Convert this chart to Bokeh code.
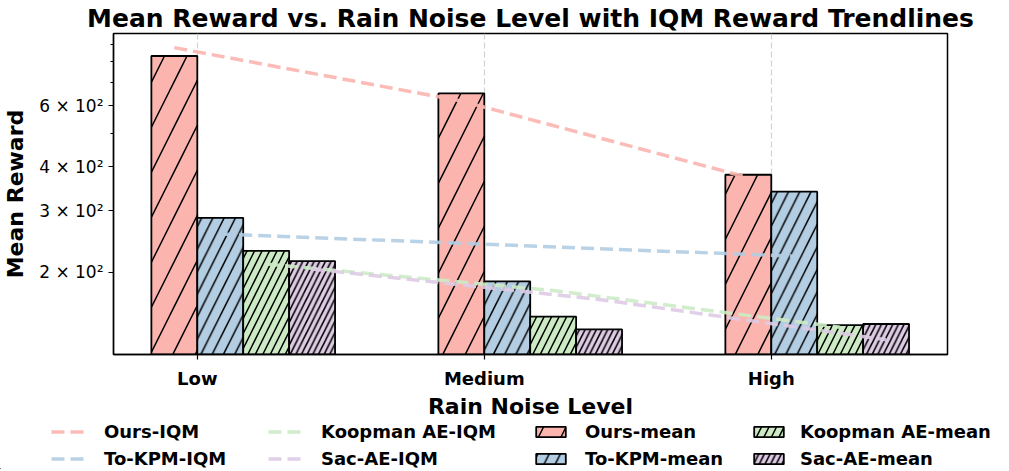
from bokeh.plotting import figure
from bokeh.models import Range1d, FixedTicker, Legend, LegendItem
from bokeh.embed import file_html
from bokeh.resources import INLINE

# ---------------- data ----------------
categories = ["Low", "Medium", "High"]
series = ["Ours", "To-KPM", "Koopman AE", "Sac-AE"]

ours_mean = [832, 650, 380]
tokpm_mean = [286, 188, 340]
koopman_mean = [230, 149, 141]
sacae_mean = [215, 137, 142]

ours_iqm = [879, 618, 373]
tokpm_iqm = [257, 239, 222]
koopman_iqm = [211, 177, 139]
sacae_iqm = [204, 167, 128]

y_major_ticks = [200, 300, 400, 600]
y_major_labels = ["2 × 10²", "3 × 10²", "4 × 10²", "6 × 10²"]
y_minor_ticks = [500, 700, 800, 900]

means = [ours_mean, tokpm_mean, koopman_mean, sacae_mean]
iqms = [ours_iqm, tokpm_iqm, koopman_iqm, sacae_iqm]

# ---------------- style ----------------
colors = ["#fbb4ae", "#b3cde3", "#ccebc5", "#decbe4"]
hatch_scales = [45, 22.5, 15, 11.3]
bar_w = 0.16
offsets = [-0.5, 0.5, 1.5, 2.5]
FONT = "DejaVu Sans"

p = figure(
    width=993, height=407,
    frame_width=834, frame_height=321,
    x_range=Range1d(-0.292, 2.614),
    y_range=Range1d(116.1, 965),
    y_axis_type="log",
    output_backend="svg", toolbar_location=None,
    min_border_left=105, min_border_right=54,
    min_border_top=26, min_border_bottom=60,
)
p.background_fill_color = "white"
p.border_fill_color = "white"
p.outline_line_color = "black"
p.outline_line_width = 1.5

# title
p.title.text = "Mean Reward vs. Rain Noise Level with IQM Reward Trendlines"
p.title.text_font = FONT
p.title.text_font_style = "bold"
p.title.text_font_size = "25px"
p.title.text_color = "black"
p.title.align = "center"
p.title.standoff = 2
p.title.offset = 8

# axes
p.xaxis.ticker = FixedTicker(ticks=[0, 1, 2])
p.xaxis.major_label_overrides = {i: c for i, c in enumerate(categories)}
p.xaxis.major_label_text_font = FONT
p.xaxis.major_label_text_font_style = "bold"
p.xaxis.major_label_text_font_size = "18px"
p.xaxis.major_label_standoff = 8
p.xaxis.axis_label = "Rain Noise Level"
p.xaxis.axis_label_text_font = FONT
p.xaxis.axis_label_text_font_style = "bold"
p.xaxis.axis_label_text_font_size = "22px"
p.xaxis.axis_label_standoff = 2

p.yaxis.ticker = FixedTicker(ticks=y_major_ticks, minor_ticks=y_minor_ticks)
p.yaxis.major_label_overrides = {t: l for t, l in zip(y_major_ticks, y_major_labels)}
p.yaxis.major_label_text_font = FONT
p.yaxis.major_label_text_font_size = "17px"
p.yaxis.major_label_standoff = 5
p.yaxis.axis_label = "Mean Reward"
p.yaxis.axis_label_text_font = FONT
p.yaxis.axis_label_text_font_style = "bold"
p.yaxis.axis_label_text_font_size = "22px"
p.yaxis.axis_label_standoff = 8

for ax in (p.xaxis[0], p.yaxis[0]):
    ax.axis_line_color = "black"
    ax.axis_line_width = 1.3
    ax.major_tick_line_color = "black"
    ax.major_tick_line_width = 1.2
    ax.major_tick_out = 5
    ax.major_tick_in = 0
    ax.minor_tick_line_color = "black"
    ax.minor_tick_line_width = 1.0
    ax.minor_tick_out = 3
    ax.minor_tick_in = 0
    ax.major_label_text_color = "black"
    ax.axis_label_text_color = "black"

p.ygrid.visible = False
p.xgrid.grid_line_color = "#c8c8c8"
p.xgrid.grid_line_dash = "6 3"
p.xgrid.grid_line_width = 1.2
p.xgrid.grid_line_alpha = 0.8

bar_style = [dict(fill_color=colors[k], line_color="black", line_width=1.8,
                  hatch_pattern="/", hatch_color="black", hatch_weight=1.5,
                  hatch_scale=hatch_scales[k]) for k in range(4)]
line_style = [dict(line_color=colors[k], line_width=3.5, line_dash="13 6",
                   line_alpha=0.9) for k in range(4)]

# bars
for k in range(4):
    xs = [i + offsets[k] * bar_w for i in range(len(categories))]
    p.vbar(x=xs, top=means[k], bottom=1, width=bar_w, **bar_style[k])

# IQM trendlines
for k in range(4):
    xs = [i + offsets[k] * bar_w for i in range(len(categories))]
    p.line(xs, iqms[k], **line_style[k])

# ---------------- legend strip (separate root, full-width frame) ----------------
lg = figure(width=993, height=48, x_range=Range1d(0, 1), y_range=Range1d(0, 1),
            output_backend="svg", toolbar_location=None,
            x_axis_location=None, y_axis_location=None,
            min_border=0, min_border_left=0, min_border_right=0,
            min_border_top=0, min_border_bottom=0)
lg.outline_line_color = None
lg.xgrid.visible = False
lg.ygrid.visible = False
lg.background_fill_color = "white"
lg.border_fill_color = "white"

# proxy renderers placed outside the visible range (only used for legend glyphs)
line_r = [lg.line([-5, -4], [-5, -5], **line_style[k]) for k in range(4)]
bar_r = [lg.vbar(x=[-5], top=[-4], bottom=-5, width=0.1, **bar_style[k]) for k in range(4)]

cols = [
    ([f"{series[0]}-IQM", f"{series[1]}-IQM"], [line_r[0], line_r[1]], 51, 16),
    ([f"{series[2]}-IQM", f"{series[3]}-IQM"], [line_r[2], line_r[3]], 268, 16),
    ([f"{series[0]}-mean", f"{series[1]}-mean"], [bar_r[0], bar_r[1]], 532, 16),
    ([f"{series[2]}-mean", f"{series[3]}-mean"], [bar_r[2], bar_r[3]], 750, 13),
]
for labels, rends, vx, standoff in cols:
    leg = Legend(
        items=[LegendItem(label=l, renderers=[r]) for l, r in zip(labels, rends)],
        location=(vx, 0),
        orientation="vertical",
        label_text_font=FONT, label_text_font_style="bold",
        label_text_font_size="18px", label_text_color="black",
        glyph_width=37, glyph_height=13, label_height=20,
        label_standoff=standoff, spacing=6, padding=0, margin=0,
        border_line_alpha=0, background_fill_alpha=0,
    )
    lg.add_layout(leg, "center")

open("out.html", "w").write(file_html([p, lg], INLINE))
